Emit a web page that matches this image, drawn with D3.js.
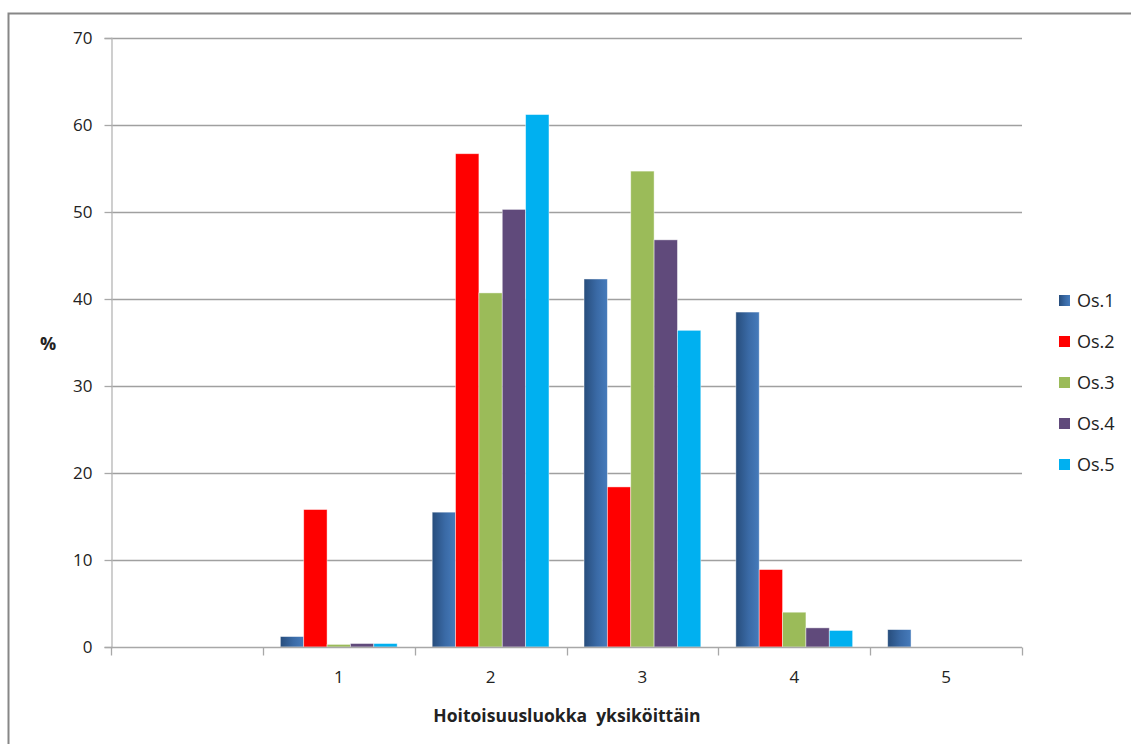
<!DOCTYPE html>
<html>
<head>
<meta charset="utf-8">
<script src="https://cdn.jsdelivr.net/npm/d3@7/dist/d3.min.js"></script>
<style>
  html, body { margin: 0; padding: 0; background: #fff; }
  svg { display: block; }
  text { font-family: "Open Sans", "Liberation Sans", sans-serif; fill: #222; }
</style>
</head>
<body>
<svg id="chart" width="1131" height="744"></svg>
<script>
// Categories (the first slot on the axis has no label)
const categories = ["", "1", "2", "3", "4", "5"];
const seriesNames = ["Os.1", "Os.2", "Os.3", "Os.4", "Os.5"];
const seriesColors = ["#3b6ba8", "#ff0000", "#9bbb59", "#604a7b", "#00b0f0"];

// Share (%) per category, one array per series
const os1 = [0, 1.2, 15.5, 42.3, 38.5, 2.0];
const os2 = [0, 15.8, 56.7, 18.4, 8.9, 0];
const os3 = [0, 0.3, 40.7, 54.7, 4.0, 0];
const os4 = [0, 0.4, 50.3, 46.8, 2.2, 0];
const os5 = [0, 0.4, 61.2, 36.4, 1.9, 0];
const seriesValues = [os1, os2, os3, os4, os5];

const yTicks = [0, 10, 20, 30, 40, 50, 60, 70];
const xTitle = "Hoitoisuusluokka  yksiköittäin";
const yTitle = "%";

const svg = d3.select("#chart");

// Outer chart frame
svg.append("rect")
  .attr("x", 8.5).attr("y", 13.5)
  .attr("width", 1140).attr("height", 760)
  .attr("fill", "#fff").attr("stroke", "#878787").attr("stroke-width", 2);

const plot = { left: 111, right: 1022, top: 38, bottom: 647 };

const x = d3.scaleBand().domain(categories.map((c, i) => i))
  .range([plot.left, plot.right]).paddingInner(0).paddingOuter(0);
const y = d3.scaleLinear().domain([0, 70]).range([plot.bottom, plot.top]);

// Bar width: 5 bars + 150% gap fill each category
const barW = x.bandwidth() / 6.5;
const groupOffset = barW * 0.75;

// Gradient for the first series
const defs = svg.append("defs");
const grad = defs.append("linearGradient").attr("id", "g1")
  .attr("x1", "0").attr("x2", "1").attr("y1", "0").attr("y2", "0");
grad.append("stop").attr("offset", "0").attr("stop-color", "#274d7c");
grad.append("stop").attr("offset", "0.55").attr("stop-color", "#3a6aa6");
grad.append("stop").attr("offset", "1").attr("stop-color", "#467bbb");

// Horizontal gridlines
svg.append("g").selectAll("line").data(yTicks.filter(t => t > 0)).join("line")
  .attr("x1", plot.left).attr("x2", plot.right)
  .attr("y1", d => Math.round(y(d)) + 0.5).attr("y2", d => Math.round(y(d)) + 0.5)
  .attr("stroke", "#a0a0a0").attr("stroke-width", 1.3);

// Y axis
const yAxis = svg.append("g").attr("transform", `translate(${plot.left + 0.5},0)`)
  .call(d3.axisLeft(y).tickValues(yTicks).tickSize(7).tickPadding(12));
yAxis.select(".domain").attr("stroke", "#b5b5b5").attr("stroke-width", 1.3);
yAxis.selectAll(".tick line").attr("stroke", "#a8a8a8").attr("stroke-width", 1.3);
yAxis.selectAll(".tick text").style("font-size", "17px")
  .style("font-family", "'Open Sans', sans-serif").attr("fill", "#222");

// Bars
seriesValues.forEach((vals, s) => {
  svg.append("g").selectAll("rect").data(vals.map((v, i) => ({ v, i })).filter(d => d.v > 0))
    .join("rect")
    .attr("x", d => x(d.i) + groupOffset + s * barW)
    .attr("y", d => y(d.v))
    .attr("width", barW)
    .attr("height", d => y(0) - y(d.v))
    .attr("fill", s === 0 ? "url(#g1)" : seriesColors[s])
    .attr("stroke", "rgba(255,255,255,0.55)").attr("stroke-width", 0.8);
});

// X axis
const xAxis = svg.append("g").attr("transform", `translate(0,${plot.bottom + 0.5})`);
xAxis.append("line").attr("x1", plot.left).attr("x2", plot.right)
  .attr("stroke", "#a8a8a8").attr("stroke-width", 1.3);
xAxis.selectAll("line.tk").data(d3.range(categories.length + 1)).join("line")
  .attr("class", "tk")
  .attr("x1", i => Math.round(plot.left + i * x.bandwidth()) + 0.5)
  .attr("x2", i => Math.round(plot.left + i * x.bandwidth()) + 0.5)
  .attr("y1", 0).attr("y2", 8)
  .attr("stroke", "#a8a8a8").attr("stroke-width", 1.3);
xAxis.selectAll("text").data(categories).join("text")
  .attr("x", (c, i) => x(i) + x.bandwidth() / 2)
  .attr("y", 35)
  .attr("text-anchor", "middle")
  .style("font-size", "17px")
  .text(c => c);

// Axis titles
svg.append("text")
  .attr("x", 567).attr("y", 722)
  .attr("text-anchor", "middle")
  .style("font-size", "17.5px").style("font-weight", "bold")
  .style("white-space", "pre")
  .text(xTitle);
svg.append("text")
  .attr("x", 48).attr("y", 350)
  .attr("text-anchor", "middle")
  .style("font-size", "18px").style("font-weight", "bold")
  .text(yTitle);

// Legend
const legend = svg.append("g").attr("transform", "translate(1059,295)");
seriesNames.forEach((name, i) => {
  const row = legend.append("g").attr("transform", `translate(0,${i * 41})`);
  row.append("rect").attr("x", 0).attr("y", 0).attr("width", 11).attr("height", 11)
    .attr("fill", i === 0 ? "url(#g1)" : seriesColors[i]);
  row.append("text").attr("x", 18).attr("y", 12)
    .style("font-size", "18px").text(name);
});
</script>
</body>
</html>
